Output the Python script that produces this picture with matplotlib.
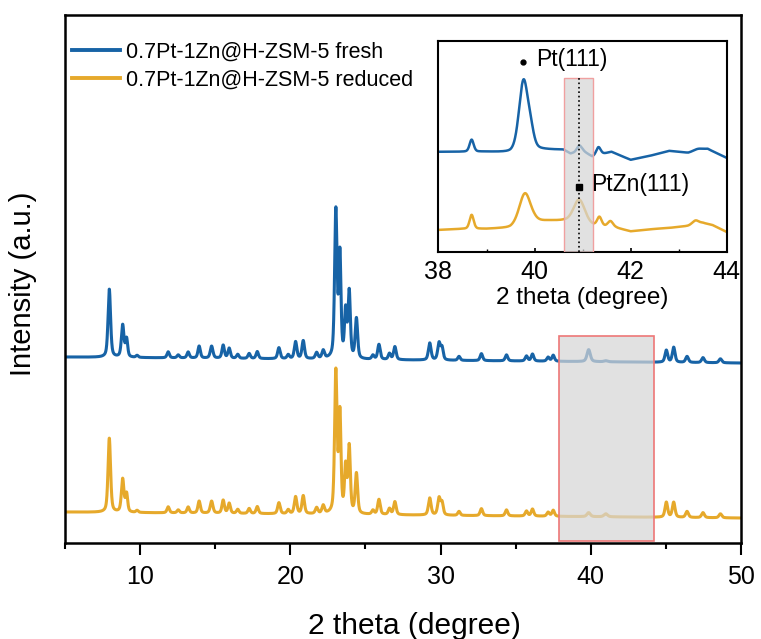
import numpy as np
import matplotlib
matplotlib.use("Agg")
import matplotlib.pyplot as plt
from matplotlib.patches import Rectangle

plt.rcParams['font.family'] = ['Liberation Sans', 'DejaVu Sans']

# ---------------- data ----------------
labels = ["0.7Pt-1Zn@H-ZSM-5 fresh", "0.7Pt-1Zn@H-ZSM-5 reduced"]
colors = ["#1763a6", "#e6a92b"]

# main pattern: peak table (2theta, FWHM) and heights for each sample
peak_pos = [7.95, 8.84, 9.10, 9.80, 11.87, 12.54, 13.20, 13.93, 14.76, 15.53,
            15.93, 16.50, 17.26, 17.80, 19.24, 19.86, 20.35, 20.86, 21.75, 22.19,
            23.03, 23.30, 23.68, 23.92, 24.40, 25.50, 25.90, 26.60, 26.96, 29.28,
            29.90, 30.10, 31.23, 32.72, 34.39, 35.72, 36.12, 37.16, 37.50, 39.86,
            41.00, 45.03, 45.52, 46.41, 47.47, 48.63]
peak_fwhm = [0.20, 0.20, 0.17, 0.18, 0.19, 0.19, 0.19, 0.19, 0.21, 0.19,
             0.19, 0.19, 0.19, 0.19, 0.20, 0.19, 0.20, 0.20, 0.20, 0.20,
             0.19, 0.17, 0.17, 0.18, 0.19, 0.19, 0.20, 0.19, 0.20, 0.21,
             0.21, 0.19, 0.19, 0.20, 0.20, 0.20, 0.20, 0.20, 0.20, 0.26,
             0.28, 0.21, 0.21, 0.22, 0.22, 0.22]
h_fresh = [68, 32, 18, 2, 6, 3, 6, 12, 12, 13,
           10, 4, 5, 7, 11, 4, 17, 18, 6, 8,
           147, 102, 46, 66, 40, 4, 15, 6, 13, 17,
           17, 12, 4, 7, 6, 5, 7, 4, 6, 12,
           1, 12, 15, 6, 5, 4]
h_reduced = [74, 33, 18, 2, 6, 3, 6, 12, 12, 13,
             10, 4, 5, 7, 11, 4, 17, 18, 6, 8,
             141, 98, 45, 66, 40, 4, 15, 6, 13, 17,
             17, 12, 4, 7, 6, 5, 7, 4, 6, 4,
             3, 15, 15, 6, 5, 4]
base_x = [5, 50]
base_fresh = [186, 180]
base_reduced = [31, 25]

# inset (38-44 deg) pattern
in_pos_fresh = [38.69, 39.77, 39.92, 40.93, 41.33, 43.40]
in_w_fresh = [0.10, 0.22, 0.16, 0.11, 0.11, 0.22]
in_h_fresh = [12, 70, 14, 6, 8, 2]
in_base_x_fresh = [38.0, 39.0, 39.5, 40.0, 40.6, 40.75, 41.0, 41.2, 41.6, 42.0, 42.4, 42.8, 43.2, 43.6, 44.0]
in_base_fresh = [100, 100, 99, 102, 102, 98, 101, 95, 100, 92, 96, 101, 99, 103, 94]

in_pos_red = [38.69, 39.80, 40.93, 41.35, 41.58, 43.35]
in_w_red = [0.10, 0.28, 0.28, 0.11, 0.13, 0.16]
in_h_red = [14, 31, 24, 9, 6, 4]
in_base_x_red = [38.0, 38.5, 39.0, 39.5, 40.0, 40.3, 40.6, 41.2, 41.7, 42.0, 42.5, 42.8, 43.2, 43.5, 43.7, 44.0]
in_base_red = [22, 23, 23, 24, 30, 31, 31, 26, 24, 20.5, 23, 24, 26, 29, 27, 20]

main_xlim = (5, 50)
main_ylim = (0, 528)
box_x = (37.87, 44.23)
box_y = (2, 207)

in_xlim = (38, 44)
in_ylim = (0, 211)
pt_x, pt_y = 39.76, 190
ptzn_x, ptzn_y = 40.92, 65
in_rect_x = (40.62, 41.21)
in_rect_top = 174


def pattern(x, pos, fwhm, heights, bx, by, eta=0.5):
    y = np.interp(x, bx, by).astype(float)
    for p, w, h in zip(pos, fwhm, heights):
        g = np.exp(-4 * np.log(2) * ((x - p) / w) ** 2)
        l = 1.0 / (1.0 + 4 * ((x - p) / w) ** 2)
        y += h * ((1 - eta) * g + eta * l)
    return y


x_main = np.linspace(main_xlim[0], main_xlim[1], 9001)
y_fresh = pattern(x_main, peak_pos, peak_fwhm, h_fresh, base_x, base_fresh)
y_red = pattern(x_main, peak_pos, peak_fwhm, h_reduced, base_x, base_reduced)

x_in = np.linspace(in_xlim[0], in_xlim[1], 2401)
yi_fresh = pattern(x_in, in_pos_fresh, in_w_fresh, in_h_fresh, in_base_x_fresh, in_base_fresh, eta=0.3)
yi_red = pattern(x_in, in_pos_red, in_w_red, in_h_red, in_base_x_red, in_base_red, eta=0.3)

# ---------------- figure ----------------
fig = plt.figure(figsize=(7.61, 6.39), dpi=100)
ax = fig.add_axes([0.0854, 0.1502, 0.8883, 0.8263])
ax.plot(x_main, y_fresh, color=colors[0], lw=2.2, label=labels[0])
ax.plot(x_main, y_red, color=colors[1], lw=2.2, label=labels[1])
ax.add_patch(Rectangle((box_x[0], box_y[0]), box_x[1] - box_x[0], box_y[1] - box_y[0],
                       facecolor=(0.84, 0.84, 0.84, 0.72), edgecolor='#ee7777',
                       lw=1.2, zorder=3))
ax.set_xlim(*main_xlim)
ax.set_ylim(*main_ylim)
ax.set_xticks([10, 20, 30, 40, 50])
ax.set_xticks([5, 15, 25, 35, 45], minor=True)
ax.set_yticks([])
ax.tick_params(axis='x', which='major', direction='out', length=8.6, width=1.5,
               labelsize=18, pad=7)
ax.tick_params(axis='x', which='minor', direction='out', length=4.3, width=1.5)
for s in ax.spines.values():
    s.set_linewidth(1.8)
ax.set_xlabel("2 theta (degree)", fontsize=21.5)
ax.xaxis.set_label_coords(0.517, -0.13)
ax.set_ylabel("Intensity (a.u.)", fontsize=21)
ax.yaxis.set_label_coords(-0.042, 0.49)
ax.legend(loc='upper left', bbox_to_anchor=(0.011, 0.95), frameon=False,
          fontsize=15.5, handlelength=2.2, handletextpad=0.3, labelspacing=0.33,
          borderpad=0, borderaxespad=0)
for line in ax.get_legend().get_lines():
    line.set_linewidth(2.8)

# ---------------- inset ----------------
axi = fig.add_axes([0.5762, 0.6056, 0.3787, 0.3307])
axi.plot(x_in, yi_fresh, color=colors[0], lw=1.8)
axi.plot(x_in, yi_red, color=colors[1], lw=1.8)
axi.add_patch(Rectangle((in_rect_x[0], 0), in_rect_x[1] - in_rect_x[0], in_rect_top,
                        facecolor=(0.84, 0.84, 0.84, 0.72), edgecolor='#f0a0a0',
                        lw=1.0, zorder=3))
axi.plot([ptzn_x, ptzn_x], [0, in_rect_top], color='black', lw=1.2, ls=':', zorder=4)
axi.plot([pt_x], [pt_y], marker='o', color='black', ms=3.5, zorder=5)
axi.plot([ptzn_x], [ptzn_y], marker='s', color='black', ms=4.5, zorder=5)
axi.text(pt_x + 0.27, pt_y + 2, "Pt(111)", fontsize=16.5, va='center', ha='left')
axi.text(ptzn_x + 0.26, ptzn_y + 2, "PtZn(111)", fontsize=16.5, va='center', ha='left')
axi.set_xlim(*in_xlim)
axi.set_ylim(*in_ylim)
axi.set_xticks([38, 40, 42, 44])
axi.set_xticks([39, 41, 43], minor=True)
axi.set_yticks([])
axi.tick_params(axis='x', which='major', direction='in', length=3, width=1.2,
                labelsize=18, pad=6)
axi.tick_params(axis='x', which='minor', direction='in', length=2, width=1.0)
for s in axi.spines.values():
    s.set_linewidth(1.5)
axi.set_xlabel("2 theta (degree)", fontsize=17.5, labelpad=2)

fig.savefig("out.png", dpi=100)
